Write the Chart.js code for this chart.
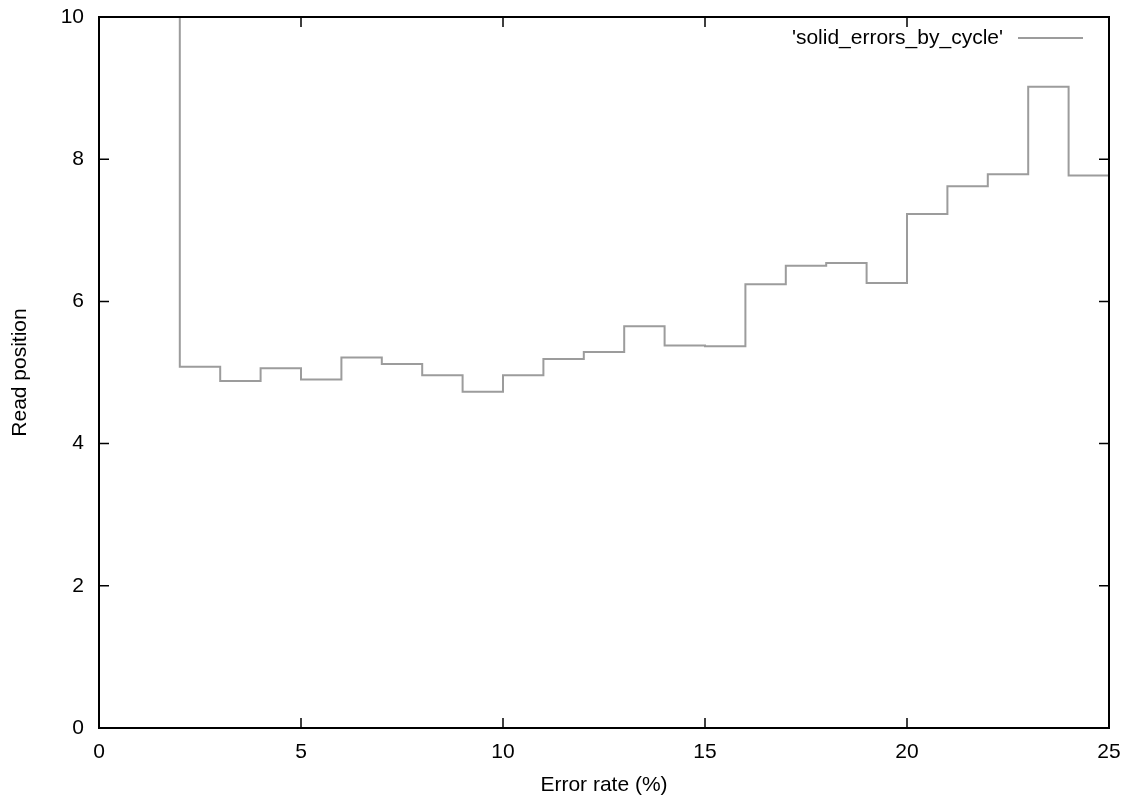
<!DOCTYPE html>
<html>
<head>
<meta charset="utf-8">
<script src="https://cdn.jsdelivr.net/npm/chart.js@4.4.1/dist/chart.umd.min.js"></script>
<style>
  html, body { margin: 0; padding: 0; background: #fff; }
  canvas { display: block; }
</style>
</head>
<body>
<canvas id="chart" width="1130" height="800"></canvas>
<script>
  // error rate bins (%) and mean read position per bin (steps style)
  const errorRate = [1, 2, 3, 4, 5, 6, 7, 8, 9, 10, 11, 12, 13, 14, 15, 16, 17, 18, 19, 20, 21, 22, 23, 24, 25];
  const readPos = [12, 5.08, 4.88, 5.06, 4.90, 5.21, 5.12, 4.96, 4.73, 4.96, 5.19, 5.29, 5.65, 5.38, 5.37,
                   6.24, 6.50, 6.54, 6.26, 7.23, 7.62, 7.79, 9.02, 7.77, 7.77];
  const seriesName = "'solid_errors_by_cycle'";
  const xTicks = [0, 5, 10, 15, 20, 25];
  const yTicks = [0, 2, 4, 6, 8, 10];

  const FONT = { family: "'Liberation Sans', Arial, sans-serif", size: 21 };
  const TICK = 10;

  // gnuplot-like frame: border box, inward ticks mirrored on all sides, key at top right
  const frame = {
    id: 'frame',
    afterDraw(chart) {
      const { ctx, chartArea: a, scales: { x, y } } = chart;
      ctx.save();
      ctx.strokeStyle = '#000';
      ctx.lineWidth = 1.5;
      ctx.beginPath();
      xTicks.forEach(v => {
        const px = x.getPixelForValue(v);
        ctx.moveTo(px, a.bottom); ctx.lineTo(px, a.bottom - TICK);
        ctx.moveTo(px, a.top); ctx.lineTo(px, a.top + TICK);
      });
      yTicks.forEach(v => {
        const py = y.getPixelForValue(v);
        ctx.moveTo(a.left, py); ctx.lineTo(a.left + TICK, py);
        ctx.moveTo(a.right, py); ctx.lineTo(a.right - TICK, py);
      });
      ctx.stroke();
      ctx.lineWidth = 2;
      ctx.strokeRect(a.left, a.top, a.right - a.left, a.bottom - a.top);

      // key
      const ds = chart.data.datasets[0];
      ctx.font = FONT.size + 'px ' + FONT.family;
      ctx.fillStyle = '#000';
      ctx.textAlign = 'right';
      ctx.textBaseline = 'middle';
      ctx.fillText(ds.label, a.right - 106, a.top + 21);
      ctx.strokeStyle = ds.borderColor;
      ctx.lineWidth = ds.borderWidth;
      ctx.beginPath();
      ctx.moveTo(a.right - 91, a.top + 21);
      ctx.lineTo(a.right - 26, a.top + 21);
      ctx.stroke();
      ctx.restore();
    }
  };

  Chart.defaults.font.family = FONT.family;
  Chart.defaults.font.size = FONT.size;
  Chart.defaults.color = '#000';

  new Chart(document.getElementById('chart').getContext('2d'), {
    type: 'line',
    data: {
      datasets: [{
        label: seriesName,
        data: errorRate.map((e, i) => ({ x: e, y: readPos[i] })),
        stepped: true,
        borderColor: '#9c9c9c',
        borderWidth: 2,
        pointRadius: 0,
        fill: false
      }]
    },
    options: {
      responsive: false,
      animation: false,
      devicePixelRatio: 1,
      layout: { padding: { top: 17, right: 21, left: 0, bottom: 0 } },
      plugins: { legend: { display: false }, tooltip: { enabled: false } },
      scales: {
        x: {
          type: 'linear',
          min: 0, max: 25,
          afterFit: s => { s.height = 72; s.paddingLeft = 0; s.paddingRight = 0; },
          afterBuildTicks: s => { s.ticks = xTicks.map(v => ({ value: v })); },
          grid: { display: false, drawTicks: false },
          border: { display: false },
          ticks: { padding: 12, maxRotation: 0 },
          title: { display: true, text: 'Error rate (%)', padding: { top: 0, bottom: 2 } }
        },
        y: {
          min: 0, max: 10,
          afterFit: s => { s.width = 99; s.paddingTop = 0; s.paddingBottom = 0; },
          afterBuildTicks: s => { s.ticks = yTicks.map(v => ({ value: v })); },
          grid: { display: false, drawTicks: false },
          border: { display: false },
          ticks: { padding: 15 },
          title: { display: true, text: 'Read position', padding: { top: 8, bottom: 0 } }
        }
      }
    },
    plugins: [frame]
  });
</script>
</body>
</html>
